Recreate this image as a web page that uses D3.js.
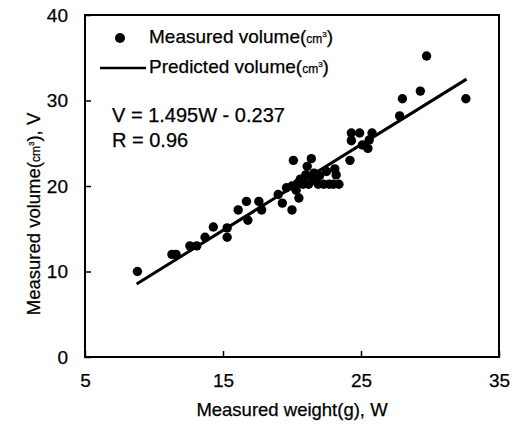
<!DOCTYPE html>
<html>
<head>
<meta charset="utf-8">
<script src="https://cdnjs.cloudflare.com/ajax/libs/d3/7.8.5/d3.min.js"></script>
<style>
  body { margin: 0; background: #fff; }
  svg { font-family: "Liberation Sans", Arial, sans-serif; }
  text { stroke: #000; stroke-width: 0.25px; }
</style>
</head>
<body>
<svg id="chart" width="529" height="427"></svg>
<script>
// measured weight (g) and measured volume (cm3)
var weights = [8.8, 11.3, 11.6, 12.6, 13.1, 13.7, 14.3, 15.3, 15.3, 16.1, 16.7, 16.8, 17.6, 17.8,
  19.0, 19.3, 19.6, 20.0, 20.0, 20.1, 20.3, 20.4, 20.5, 20.6, 20.8, 21.0, 21.1, 21.2, 21.4, 21.5,
  21.6, 21.9, 22.0, 22.3, 22.5, 22.7, 23.0, 23.1, 23.2, 23.4, 24.2, 24.3, 24.3, 24.9, 25.1, 25.5,
  25.6, 25.8, 27.8, 28.0, 29.3, 29.75, 32.6];
var volumes = [10, 12, 12, 13, 13, 14, 15.2, 15.1, 14, 17.2, 18.2, 16, 18.2, 17.2,
  19, 18, 19.8, 17.2, 20, 23, 19.5, 20.3, 18.6, 20.8, 20.2, 21.3, 22.3, 20.2, 23.2, 20.7,
  21.5, 20.2, 21.2, 20.2, 21.7, 20.2, 20.2, 22, 21.3, 20.2, 23, 26.2, 25.3, 26.2, 24.8, 24.4,
  25.4, 26.2, 28.2, 30.2, 31.1, 35.2, 30.2];

// predicted line as drawn (end points)
var lineW = [8.74, 32.65];
var lineV = [8.54, 32.5];

var xTicks = [5, 15, 25, 35];
var yTicks = [0, 10, 20, 30, 40];
var legendLabels = ["Measured volume(", "Predicted volume("];
var equationLines = ["V = 1.495W - 0.237", "R = 0.96"];

var svg = d3.select("#chart");

var x = d3.scaleLinear().domain([5, 35]).range([85, 499]);
var y = d3.scaleLinear().domain([0, 40]).range([357, 15]);

// unit "cm3" written small like in the original
function addUnit(t, tail) {
  t.append("tspan").attr("font-size", 12).text("cm");
  t.append("tspan").attr("font-size", 8).attr("dy", -6).text("3");
  t.append("tspan").attr("dy", 6).text(tail);
}

function styleAxis(g) {
  g.select(".domain").remove();
  g.selectAll("line").attr("stroke", "#000").attr("stroke-width", 1.5);
  g.selectAll("text").attr("font-size", 19).attr("fill", "#000")
    .attr("font-family", "Liberation Sans, Arial, sans-serif");
}

// axes (ticks inside)
svg.append("g")
  .attr("transform", "translate(85,0)")
  .call(d3.axisLeft(y).tickValues(yTicks).tickSizeInner(-6).tickSizeOuter(0).tickPadding(17))
  .call(styleAxis);

svg.append("g")
  .attr("transform", "translate(0,357)")
  .call(d3.axisBottom(x).tickValues(xTicks).tickSizeInner(-6).tickSizeOuter(0).tickPadding(17))
  .call(styleAxis);

// frame
svg.append("rect")
  .attr("x", x(5)).attr("y", y(40))
  .attr("width", x(35) - x(5)).attr("height", y(0) - y(40))
  .attr("fill", "none").attr("stroke", "#000").attr("stroke-width", 2);

// points
var pts = weights.map(function(w, i) { return { w: w, v: volumes[i] }; });
svg.append("g").selectAll("circle")
  .data(pts)
  .join("circle")
  .attr("cx", function(d) { return x(d.w); })
  .attr("cy", function(d) { return y(d.v); })
  .attr("r", 4.7)
  .attr("fill", "#000");

// predicted line
var linePts = lineW.map(function(w, i) { return [w, lineV[i]]; });
svg.append("path")
  .datum(linePts)
  .attr("d", d3.line().x(function(d) { return x(d[0]); }).y(function(d) { return y(d[1]); }))
  .attr("fill", "none").attr("stroke", "#000").attr("stroke-width", 3);

// legend
svg.append("circle").attr("cx", 120).attr("cy", 38).attr("r", 5).attr("fill", "#000");
svg.append("line").attr("x1", 100).attr("x2", 146).attr("y1", 68).attr("y2", 68)
  .attr("stroke", "#000").attr("stroke-width", 2.5);
legendLabels.forEach(function(lbl, i) {
  var t = svg.append("text").attr("x", 149).attr("y", 43 + i * 30)
    .attr("font-size", 19).attr("fill", "#000").text(lbl);
  addUnit(t, ")");
});

// equation
equationLines.forEach(function(s, i) {
  svg.append("text").attr("x", 112).attr("y", 122 + i * 25)
    .attr("font-size", 20).attr("fill", "#000").text(s);
});

// axis titles
svg.append("text")
  .attr("x", 292).attr("y", 416)
  .attr("text-anchor", "middle").attr("font-size", 18.5).attr("fill", "#000")
  .text("Measured weight(g), W");

var yt = svg.append("text")
  .attr("transform", "translate(40,214) rotate(-90)")
  .attr("text-anchor", "middle").attr("font-size", 18.5).attr("fill", "#000")
  .text("Measured volume(");
addUnit(yt, "), V");
</script>
</body>
</html>
